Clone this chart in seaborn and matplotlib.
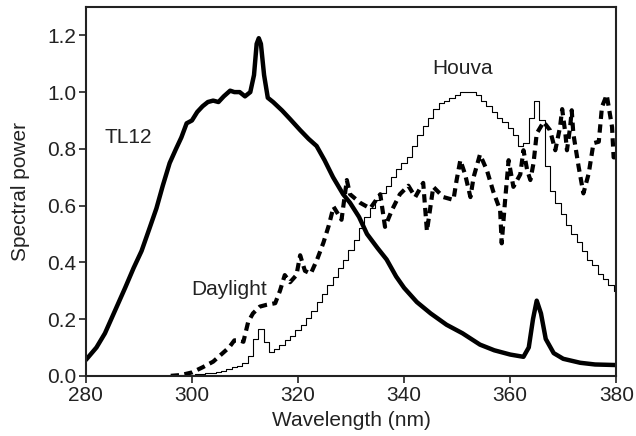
import numpy as np
import pandas as pd
import matplotlib
matplotlib.use("Agg")
import matplotlib.pyplot as plt
import seaborn as sns

# TL12 lamp spectrum (thick solid)
tl12_nm = [280, 282, 283.6, 285.5, 287.4, 289, 290.5, 292, 293.3, 294.5, 295.8, 297,
           298, 299, 300, 301, 302, 303, 304, 305, 306, 307.2, 308, 309, 310, 311,
           311.7, 312.2, 312.6, 313.0, 313.6, 314.3, 315.3, 317, 318.5, 320.4, 322,
           323.5, 325, 326.6, 328.5, 329.8, 331.5, 333, 335, 336.7, 338.5, 340,
           342.4, 345, 348, 351, 354.3, 357, 360, 362.5, 363.5, 364.3, 365, 365.8,
           366.7, 368.2, 370, 373.2, 376, 380]
tl12_pw = [0.056, 0.10, 0.15, 0.23, 0.31, 0.38, 0.44, 0.52, 0.59, 0.67, 0.75, 0.80,
           0.84, 0.89, 0.90, 0.93, 0.95, 0.965, 0.97, 0.965, 0.985, 1.005, 1.0, 1.0,
           0.985, 1.0, 1.06, 1.17, 1.19, 1.17, 1.06, 0.98, 0.965, 0.935, 0.905,
           0.866, 0.835, 0.81, 0.76, 0.70, 0.64, 0.61, 0.56, 0.50, 0.45, 0.41, 0.35,
           0.31, 0.26, 0.22, 0.18, 0.15, 0.11, 0.09, 0.075, 0.067, 0.10, 0.20,
           0.265, 0.22, 0.13, 0.08, 0.06, 0.046, 0.04, 0.038]

# Houva spectrum (thin, stepped, 1 nm)
houva_nm = list(range(296, 381))
houva_pw = [0.0, 0.0, 0.002, 0.003, 0.004, 0.005, 0.007, 0.009, 0.011, 0.014,
            0.018, 0.024, 0.03, 0.036, 0.045, 0.07, 0.13, 0.165, 0.12, 0.085,
            0.095, 0.11, 0.125, 0.14, 0.16, 0.18, 0.205, 0.23, 0.26, 0.29,
            0.32, 0.35, 0.38, 0.41, 0.445, 0.48, 0.52, 0.56, 0.59, 0.62,
            0.645, 0.67, 0.70, 0.73, 0.75, 0.77, 0.81, 0.85, 0.88, 0.91,
            0.94, 0.96, 0.97, 0.98, 0.99, 1.0, 1.0, 1.0, 0.99, 0.97,
            0.95, 0.93, 0.91, 0.895, 0.875, 0.85, 0.81, 0.82, 0.91, 0.97,
            0.90, 0.74, 0.65, 0.61, 0.57, 0.53, 0.50, 0.47, 0.44, 0.41,
            0.39, 0.36, 0.34, 0.32, 0.30]

# Daylight spectrum (thick dashed)
day_nm = [296, 298, 300, 302, 304, 305.5, 307, 308, 309, 309.7, 310.6, 311.5, 312.8,
          314, 315.7, 316.6, 317.5, 318.5, 319.7, 320.4, 321.3, 322.4, 323.6, 324.8,
          325.8, 326.7, 328.2, 329.2, 329.8, 331.7, 333.6, 335.5, 336.4, 337.7,
          339.2, 340.8, 342.1, 343.6, 344.3, 345.5, 347.4, 349.3, 349.9, 350.6,
          351.5, 352.5, 353.1, 354.3, 355.6, 356.8, 358.1, 358.4, 359.0, 359.7,
          360.6, 361.9, 362.5, 363.2, 363.8, 364.4, 365.0, 366.3, 367.5, 368.5,
          369.4, 369.8, 370.4, 370.7, 371.3, 371.6, 371.9, 372.9, 373.8, 374.8,
          375.7, 376.7, 377.3, 378.2, 379.2, 379.5, 380]
day_pw = [0.0, 0.003, 0.012, 0.03, 0.05, 0.075, 0.10, 0.125, 0.125, 0.12, 0.19, 0.22,
          0.244, 0.25, 0.256, 0.30, 0.355, 0.33, 0.355, 0.425, 0.37, 0.36, 0.41,
          0.47, 0.53, 0.596, 0.55, 0.69, 0.64, 0.61, 0.59, 0.64, 0.525, 0.584,
          0.64, 0.67, 0.63, 0.68, 0.51, 0.666, 0.63, 0.62, 0.69, 0.76, 0.71, 0.63,
          0.70, 0.78, 0.725, 0.65, 0.584, 0.467, 0.61, 0.76, 0.666, 0.71, 0.795,
          0.725, 0.69, 0.75, 0.854, 0.895, 0.866, 0.795, 0.877, 0.94, 0.854,
          0.795, 0.877, 0.936, 0.854, 0.737, 0.643, 0.713, 0.82, 0.825, 0.948,
          0.99, 0.877, 0.77, 0.77]

x_ticks = [280, 300, 320, 340, 360, 380]
y_ticks = [0.0, 0.2, 0.4, 0.6, 0.8, 1.0, 1.2]

sns.set_style("ticks")
plt.rcParams['font.family'] = ['Liberation Sans', 'DejaVu Sans']

fig, ax = plt.subplots(figsize=(6.36, 4.36), dpi=100)
fig.subplots_adjust(left=0.135, right=0.969, top=0.984, bottom=0.138)

tl12 = pd.DataFrame({'nm': tl12_nm, 'power': tl12_pw})
houva = pd.DataFrame({'nm': houva_nm, 'power': houva_pw})
day = pd.DataFrame({'nm': day_nm, 'power': day_pw})

sns.lineplot(data=houva, x='nm', y='power', ax=ax, color='black', lw=0.8,
             drawstyle='steps-mid')
sns.lineplot(data=day, x='nm', y='power', ax=ax, color='black', lw=3.0,
             linestyle=(0, (2.0, 1.3)))
sns.lineplot(data=tl12, x='nm', y='power', ax=ax, color='black', lw=3.2)

txt = '#222222'
ax.text(287.9, 0.84, 'TL12', ha='center', va='center', fontsize=15, color=txt)
ax.text(351.1, 1.084, 'Houva', ha='center', va='center', fontsize=15, color=txt)
ax.text(307.1, 0.306, 'Daylight', ha='center', va='center', fontsize=15, color=txt)

ax.set_xlim(280, 380)
ax.set_ylim(0, 1.3)
ax.set_xticks(x_ticks)
ax.set_xticklabels([str(v) for v in x_ticks])
ax.set_yticks(y_ticks)
ax.set_yticklabels([f"{v:.1f}" for v in y_ticks])
ax.set_xlabel("Wavelength (nm)", fontsize=15, color=txt, labelpad=5)
ax.set_ylabel("Spectral power", fontsize=15, color=txt, labelpad=12)
ax.tick_params(labelsize=15, length=5, width=1.2, colors=txt, direction='out', pad=2)
for s in ax.spines.values():
    s.set_linewidth(1.5)
    s.set_color(txt)

fig.savefig("out.png", dpi=100)
